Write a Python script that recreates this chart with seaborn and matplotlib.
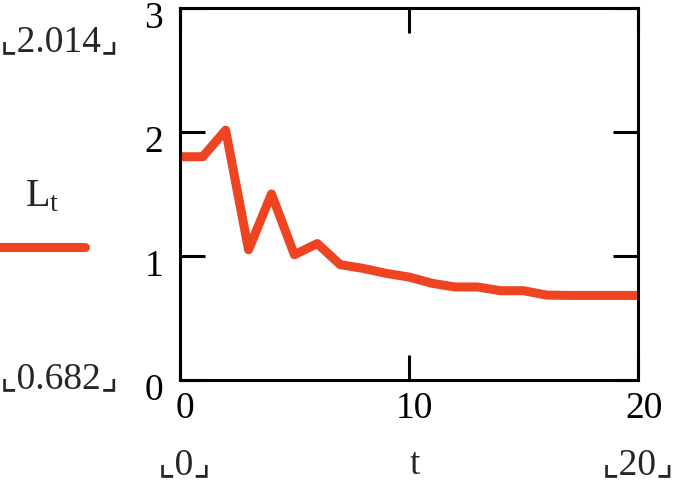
import matplotlib.pyplot as plt
import matplotlib.transforms as mtransforms
import pandas as pd
import seaborn as sns
from matplotlib.lines import Line2D

# Data
t_values = list(range(21))
L_values = [1.80, 1.80, 2.014, 1.05, 1.50, 1.01, 1.10, 0.93, 0.90, 0.86, 0.83,
            0.78, 0.75, 0.75, 0.72, 0.72, 0.685, 0.682, 0.682, 0.682, 0.682]
x_ticks = [0, 10, 20]
y_ticks = [0, 1, 2, 3]

line_color = "#EE4422"

df = pd.DataFrame({"t": t_values, "L": L_values})

sns.set_theme(style="white")
plt.rcParams["font.family"] = ["Liberation Serif", "DejaVu Sans"]
plt.rcParams["mathtext.fontset"] = "stix"

fig = plt.figure(figsize=(6.76, 4.91), dpi=100)
ax = fig.add_axes([0.266, 0.226, 0.678, 0.758])

sns.lineplot(data=df, x="t", y="L", color=line_color, linewidth=6.5, ax=ax)

ax.set_xlim(0, 20)
ax.set_ylim(0, 3)
ax.set_xticks(x_ticks)
ax.set_yticks(y_ticks)
ax.set_xlabel("")
ax.set_ylabel("")

for s in ax.spines.values():
    s.set_color("black")
    s.set_linewidth(2.2)

fs = 27
ax.tick_params(axis="both", direction="in", length=18, width=2.2, colors="black",
               labelsize=fs, top=True, right=True, bottom=True, left=True)
ax.tick_params(axis="y", pad=12)
ax.tick_params(axis="x", pad=8)

# y labels sit a little below their ticks, x labels a little right
down = mtransforms.ScaledTranslation(0, -5 / 72, fig.dpi_scale_trans)
for lab in ax.get_yticklabels():
    lab.set_transform(lab.get_transform() + down)
right = mtransforms.ScaledTranslation(4 / 72, 0, fig.dpi_scale_trans)
for lab in ax.get_xticklabels():
    lab.set_transform(lab.get_transform() + right)

# Mathcad-style range annotations
fig.text(0.0, 0.915, "\u231e2.014\u231f", fontsize=fs, ha="left", va="center")
fig.text(0.0, 0.228, "\u231e0.682\u231f", fontsize=fs, ha="left", va="center")
fig.text(0.273, 0.054, "\u231e0\u231f", fontsize=fs, ha="center", va="center")
fig.text(0.614, 0.054, "t", fontsize=fs, ha="center", va="center")
fig.text(0.997, 0.054, "\u231e20\u231f", fontsize=fs, ha="right", va="center")

# Legend
fig.text(0.062, 0.6, r"$\mathregular{L_t}$", fontsize=29, ha="center", va="center")
fig.add_artist(Line2D([0.0, 0.125], [0.497, 0.497], transform=fig.transFigure,
                      color=line_color, linewidth=6.5, solid_capstyle="round"))

fig.savefig("out.png", dpi=100)
